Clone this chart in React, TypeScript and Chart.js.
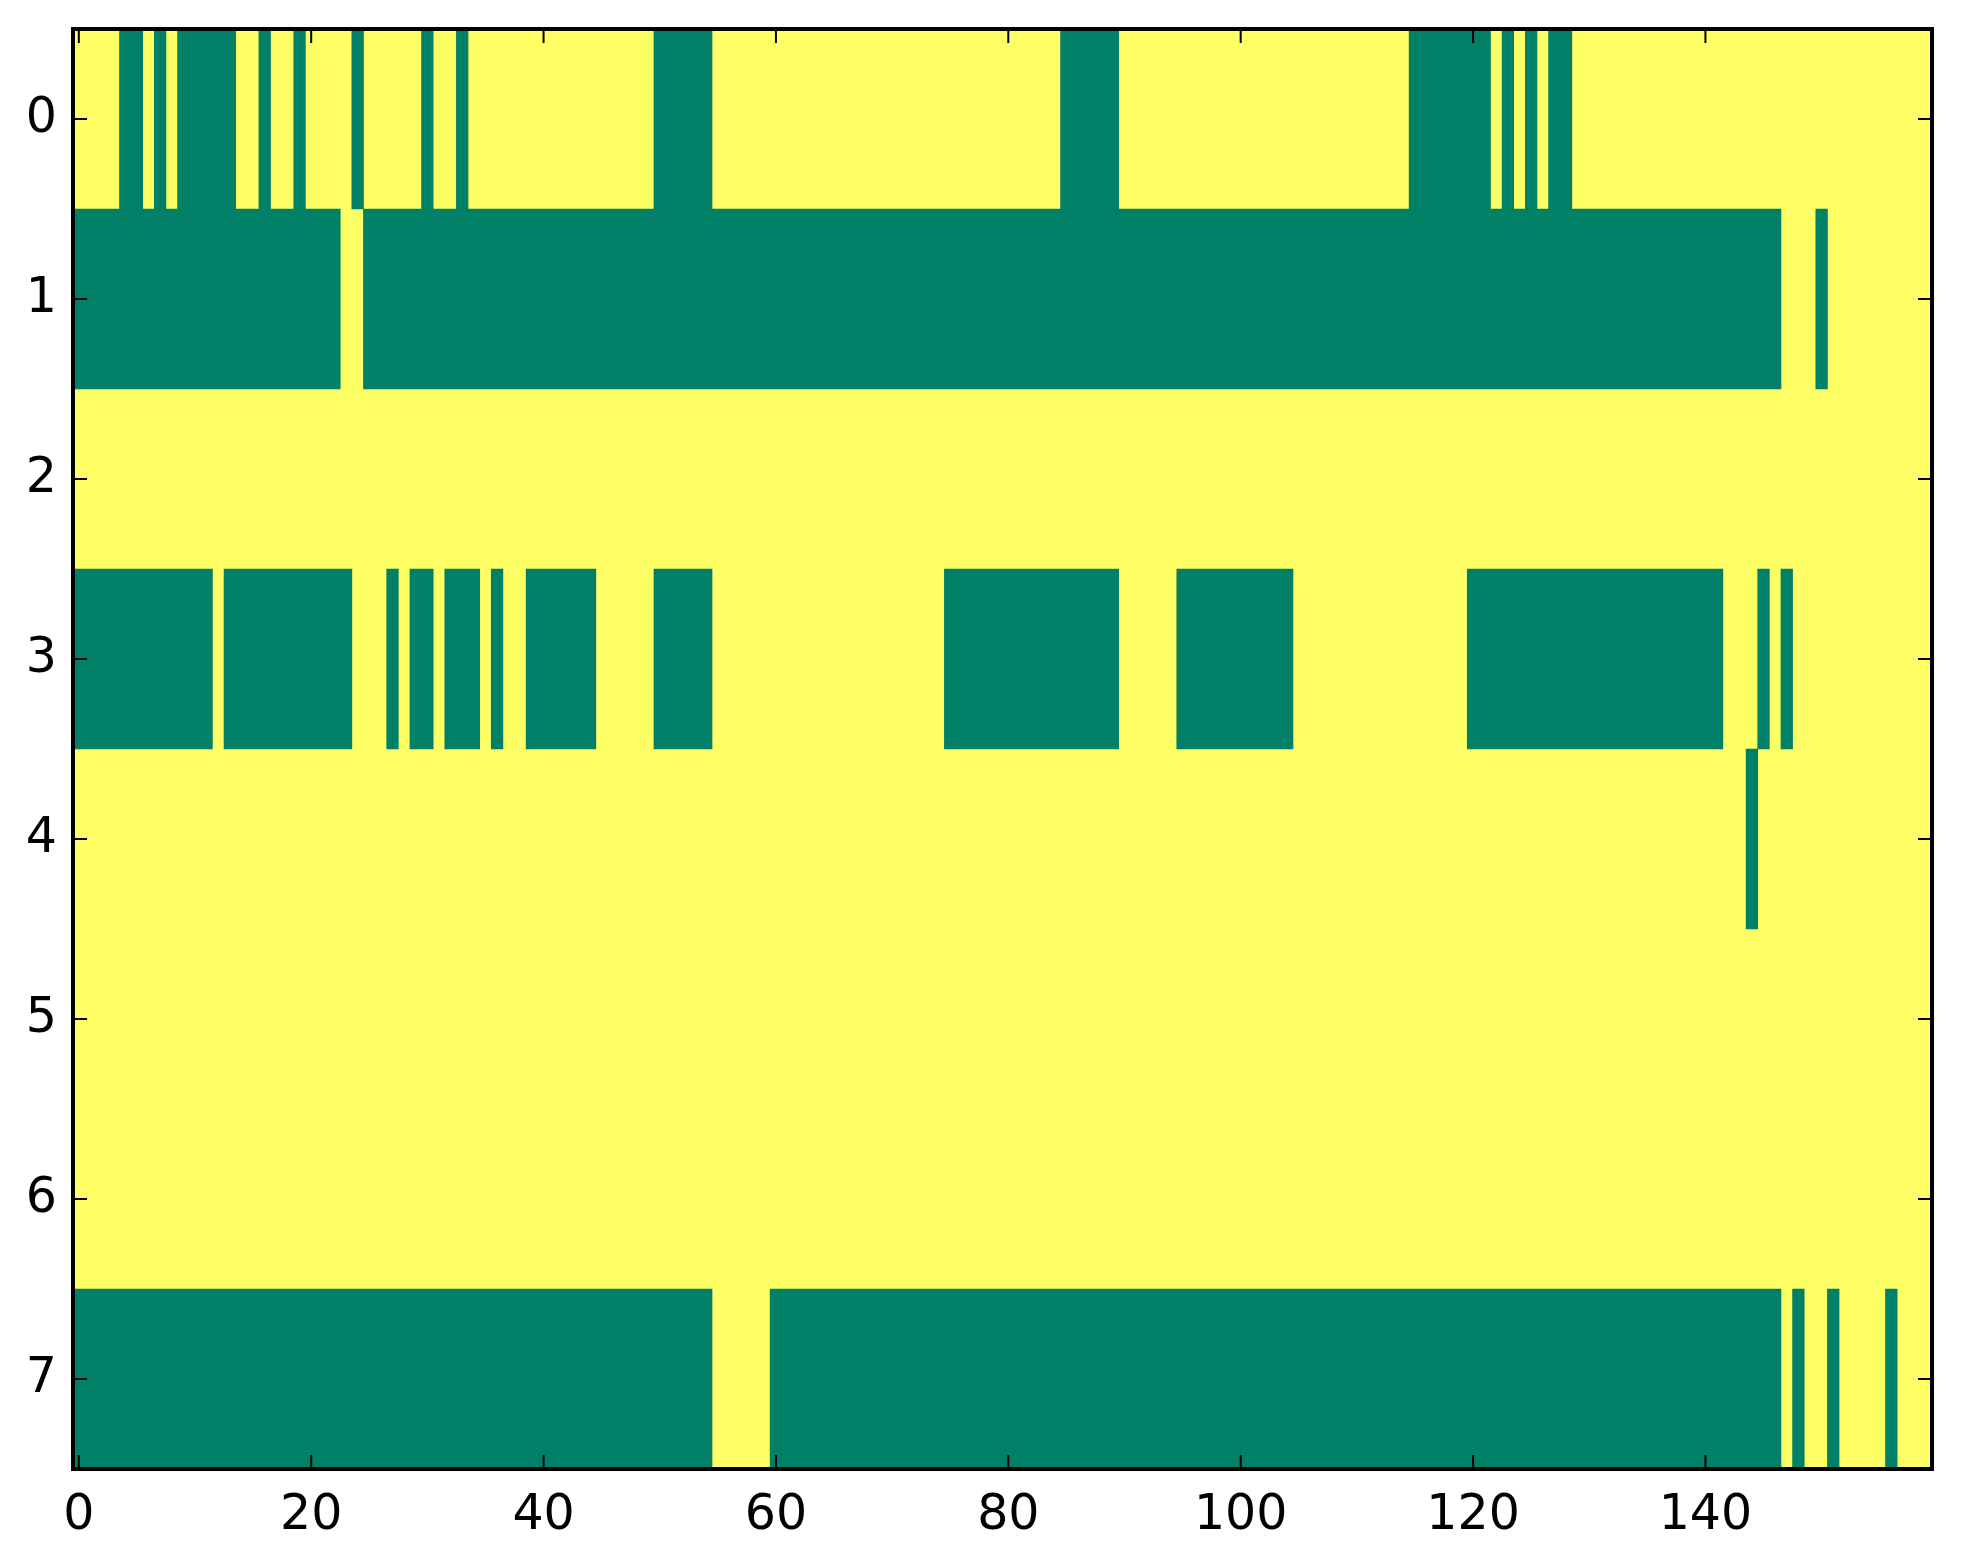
import React, { useEffect, useRef } from 'react';
import { Chart, registerables } from 'chart.js';

Chart.register(...registerables);

// ---- data ----
const nCols = 160;
const rowLabels = ['0', '1', '2', '3', '4', '5', '6', '7'];
const xTickValues = [0, 20, 40, 60, 80, 100, 120, 140];

// column runs [start, end] (inclusive) whose value is 0 (green); all other cells are 1 (yellow)
const row0Zero = [[4, 5], [7, 7], [9, 13], [16, 16], [19, 19], [24, 24], [30, 30], [33, 33], [50, 54], [85, 89], [115, 121], [123, 123], [125, 125], [127, 128]];
const row1Zero = [[0, 22], [25, 146], [150, 150]];
const row2Zero: number[][] = [];
const row3Zero = [[0, 11], [13, 23], [27, 27], [29, 30], [32, 34], [36, 36], [39, 44], [50, 54], [75, 89], [95, 104], [120, 141], [145, 145], [147, 147]];
const row4Zero = [[144, 144]];
const row5Zero: number[][] = [];
const row6Zero: number[][] = [];
const row7Zero = [[0, 54], [60, 146], [148, 148], [151, 151], [156, 156]];

const zeroRuns = [row0Zero, row1Zero, row2Zero, row3Zero, row4Zero, row5Zero, row6Zero, row7Zero];

const GREEN = '#008066';
const YELLOW = '#ffff66';

function toCells(runs: number[][]): number[] {
  const cells = new Array(nCols).fill(1);
  runs.forEach(([s, e]) => {
    for (let c = s; c <= e; c++) cells[c] = 0;
  });
  return cells;
}

function runsOf(cells: number[], value: number): number[][] {
  const out: number[][] = [];
  let start = -1;
  for (let c = 0; c <= cells.length; c++) {
    const v = c < cells.length ? cells[c] : -1;
    if (v === value && start < 0) start = c;
    if (v !== value && start >= 0) {
      out.push([start, c - 1]);
      start = -1;
    }
  }
  return out;
}

const W = 1963;
const H = 1564;
const FONT = { family: 'DejaVu Sans', size: 49 };

export default function App() {
  const ref = useRef<HTMLCanvasElement>(null);

  useEffect(() => {
    document.body.style.margin = '0';
    const canvas = ref.current!;
    const cellRows = zeroRuns.map(toCells);
    const dataFor = (value: number) => {
      const pts: any[] = [];
      cellRows.forEach((cells, r) => {
        runsOf(cells, value).forEach(([s, e]) => {
          pts.push({ x: [s - 0.5, e + 0.5], y: rowLabels[r] });
        });
      });
      return pts;
    };

    const bgPlugin = {
      id: 'bgFill',
      beforeDatasetsDraw(chart: any) {
        const { ctx, chartArea } = chart;
        ctx.save();
        ctx.fillStyle = YELLOW;
        ctx.fillRect(chartArea.left, chartArea.top, chartArea.right - chartArea.left, chartArea.bottom - chartArea.top);
        ctx.restore();
      },
    };

    const framePlugin = {
      id: 'frameTicks',
      afterDraw(chart: any) {
        const { ctx, chartArea, scales } = chart;
        const { left, right, top, bottom } = chartArea;
        const tl = 14;
        ctx.save();
        ctx.strokeStyle = '#000';
        ctx.lineWidth = 2;
        ctx.beginPath();
        xTickValues.forEach((v) => {
          const px = scales.x.getPixelForValue(v);
          ctx.moveTo(px, bottom);
          ctx.lineTo(px, bottom - tl);
          ctx.moveTo(px, top);
          ctx.lineTo(px, top + tl);
        });
        rowLabels.forEach((_, i) => {
          const py = scales.y.getPixelForValue(i);
          ctx.moveTo(left, py);
          ctx.lineTo(left + tl, py);
          ctx.moveTo(right, py);
          ctx.lineTo(right - tl, py);
        });
        ctx.stroke();
        ctx.lineWidth = 4;
        ctx.strokeRect(left, top, right - left, bottom - top);
        ctx.restore();
      },
    };

    const chart = new Chart(canvas, {
      type: 'bar',
      data: {
        labels: rowLabels,
        datasets: [
          {
            label: '0',
            data: dataFor(0),
            backgroundColor: GREEN,
            borderWidth: 0,
            grouped: false,
            categoryPercentage: 1,
            barPercentage: 1,
          } as any,
          {
            label: '1',
            data: dataFor(1),
            backgroundColor: YELLOW,
            borderWidth: 0,
            grouped: false,
            categoryPercentage: 1,
            barPercentage: 1,
          } as any,
        ],
      },
      options: {
        indexAxis: 'y',
        animation: false,
        responsive: false,
        devicePixelRatio: 1,
        layout: { padding: { top: 29, right: 31, left: 0, bottom: 0 } },
        plugins: { legend: { display: false }, tooltip: { enabled: false } },
        scales: {
          x: {
            type: 'linear',
            min: -0.5,
            max: nCols - 0.5,
            grid: { display: false, drawTicks: false },
            border: { display: false },
            ticks: { font: FONT, color: '#000', padding: 18, maxRotation: 0 },
            afterBuildTicks: (scale: any) => {
              scale.ticks = xTickValues.map((v) => ({ value: v }));
            },
            afterFit: (scale: any) => {
              scale.height = 95;
              scale.paddingLeft = 0;
              scale.paddingRight = 0;
            },
          },
          y: {
            type: 'category',
            offset: true,
            grid: { display: false, drawTicks: false },
            border: { display: false },
            ticks: { font: FONT, color: '#000', padding: 16 },
            afterFit: (scale: any) => {
              scale.width = 73;
              scale.paddingTop = 0;
              scale.paddingBottom = 0;
            },
          },
        },
      } as any,
      plugins: [bgPlugin, framePlugin],
    });
    return () => chart.destroy();
  }, []);

  return <canvas ref={ref} width={W} height={H} style={{ display: 'block', width: W, height: H }} />;
}
